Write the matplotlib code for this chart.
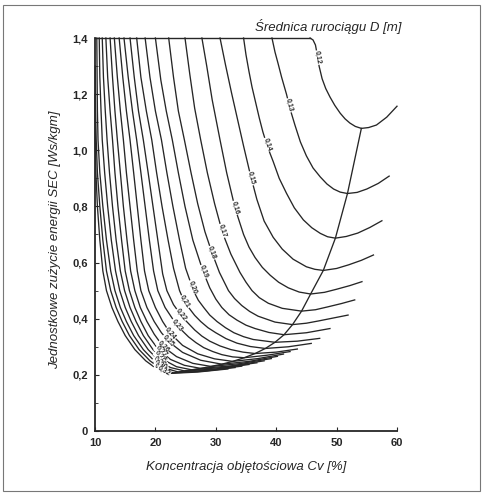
import matplotlib
matplotlib.use('Agg')
import matplotlib.pyplot as plt
import numpy as np

plt.rcParams['font.family'] = ['Liberation Sans', 'DejaVu Sans']

# curves SEC = f(Cv) for each pipe diameter D (Cv %, SEC)
c012 = [(45.6, 1.40), (46.1, 1.393), (46.5, 1.375), (46.8, 1.34), (47.1, 1.30), (47.6, 1.255),
        (48.2, 1.22), (48.9, 1.19), (49.7, 1.16), (50.6, 1.132), (51.4, 1.112), (52.2, 1.097),
        (53.1, 1.085), (54.1, 1.078), (55.3, 1.081), (56.6, 1.09), (58.3, 1.118), (60.0, 1.157)]
c013 = [(39.3, 1.40), (39.8, 1.35), (40.3, 1.31), (40.9, 1.26), (41.7, 1.20), (42.4, 1.14),
        (43.1, 1.09), (44.0, 1.03), (45.0, 0.98), (46.1, 0.937), (47.3, 0.905), (48.4, 0.88),
        (49.5, 0.862), (50.6, 0.851), (51.8, 0.846), (53.4, 0.85), (55.0, 0.862), (56.9, 0.882),
        (58.7, 0.908)]
c014 = [(34.6, 1.40), (35.0, 1.34), (35.5, 1.28), (36.0, 1.225), (36.6, 1.17), (37.2, 1.115),
        (37.8, 1.065), (38.6, 1.01), (39.5, 0.96), (40.5, 0.90), (41.7, 0.847), (43.0, 0.795),
        (44.5, 0.752), (45.9, 0.724), (47.3, 0.704), (48.5, 0.692), (49.8, 0.687), (51.6, 0.693),
        (53.5, 0.705), (55.5, 0.725), (57.5, 0.749)]
c015 = [(30.7, 1.40), (31.6, 1.305), (32.6, 1.205), (33.6, 1.11), (34.6, 1.015), (35.7, 0.915),
        (36.8, 0.825), (38.0, 0.748), (39.5, 0.69), (41.0, 0.648), (42.8, 0.612), (45.0, 0.585),
        (46.4, 0.576), (47.8, 0.572), (50.0, 0.579), (52.0, 0.592), (54.1, 0.608), (56.1, 0.627)]
c016 = [(27.7, 1.40), (28.5, 1.30), (29.4, 1.18), (30.7, 1.037), (31.8, 0.92), (33.2, 0.793),
        (34.6, 0.70), (35.5, 0.655), (36.5, 0.618), (37.7, 0.583), (39.0, 0.555), (40.4, 0.53),
        (42.0, 0.51), (43.8, 0.495), (45.7, 0.488), (48.0, 0.494), (50.0, 0.505), (52.2, 0.518),
        (54.2, 0.532)]
c017 = [(24.9, 1.40), (25.7, 1.27), (26.5, 1.15), (27.5, 1.037), (28.6, 0.92), (29.8, 0.81),
        (31.1, 0.707), (32.5, 0.63), (34.0, 0.565), (35.0, 0.53), (36.0, 0.50), (37.2, 0.475),
        (38.7, 0.455), (41.0, 0.437), (44.2, 0.427), (46.5, 0.432), (48.5, 0.442), (50.8, 0.454),
        (53.0, 0.467)]
c018 = [(22.2, 1.40), (23.0, 1.26), (23.8, 1.14), (24.8, 1.037), (25.9, 0.92), (27.0, 0.81),
        (28.2, 0.71), (29.3, 0.639), (30.6, 0.565), (32.1, 0.50), (33.1, 0.472), (34.3, 0.447),
        (35.6, 0.426), (37.0, 0.409), (39.8, 0.388), (42.7, 0.379), (45.0, 0.384), (47.0, 0.392),
        (51.9, 0.413)]
c019 = [(20.0, 1.40), (20.9, 1.25), (21.8, 1.14), (22.8, 1.037), (23.8, 0.92), (24.9, 0.80),
        (26.2, 0.68), (27.9, 0.568), (29.0, 0.51), (30.0, 0.47), (31.0, 0.44), (32.2, 0.414),
        (33.5, 0.395), (35.0, 0.377), (36.5, 0.365), (38.8, 0.351), (41.3, 0.343), (45.0, 0.35),
        (48.9, 0.365)]
c020 = [(18.3, 1.40), (19.1, 1.26), (20.0, 1.14), (21.0, 1.037), (21.9, 0.92), (22.9, 0.80),
        (24.0, 0.68), (25.0, 0.58), (26.3, 0.50), (27.1, 0.466), (28.0, 0.44), (29.0, 0.413),
        (30.2, 0.39), (31.6, 0.368), (33.0, 0.35), (34.6, 0.336), (36.2, 0.326), (39.8, 0.316),
        (43.5, 0.32), (47.2, 0.33)]
c021 = [(16.9, 1.40), (17.6, 1.26), (18.5, 1.14), (19.4, 1.037), (20.2, 0.92), (21.1, 0.80),
        (22.1, 0.68), (23.0, 0.58), (24.0, 0.50), (24.7, 0.465), (25.5, 0.44), (26.5, 0.412),
        (27.5, 0.39), (28.7, 0.368), (30.0, 0.35), (31.7, 0.329), (33.5, 0.313), (35.7, 0.301),
        (38.2, 0.294), (42.0, 0.30), (45.8, 0.312)]
c022 = [(15.8, 1.40), (16.5, 1.26), (17.2, 1.14), (18.0, 1.037), (18.8, 0.92), (19.6, 0.80),
        (20.4, 0.68), (21.2, 0.56), (21.9, 0.50), (23.0, 0.45), (24.5, 0.405), (26.5, 0.36),
        (27.7, 0.338), (29.0, 0.32), (30.7, 0.303), (32.5, 0.29), (34.5, 0.281), (36.5, 0.276),
        (40.0, 0.281), (43.5, 0.292)]
c023 = [(14.8, 1.40), (15.5, 1.26), (16.2, 1.14), (16.9, 1.037), (17.6, 0.92), (18.3, 0.80),
        (19.0, 0.68), (19.7, 0.57), (20.4, 0.50), (21.6, 0.44), (23.6, 0.375), (25.5, 0.335),
        (26.7, 0.315), (28.0, 0.297), (29.5, 0.283), (31.0, 0.272), (32.8, 0.264), (34.7, 0.261),
        (38.5, 0.27), (42.3, 0.283)]
c024 = [(14.0, 1.40), (14.6, 1.26), (15.2, 1.14), (15.8, 1.037), (16.4, 0.92), (17.0, 0.80),
        (17.6, 0.68), (18.2, 0.57), (18.9, 0.50), (20.0, 0.44), (21.2, 0.39), (22.5, 0.347),
        (24.5, 0.305), (27.0, 0.275), (29.8, 0.257), (32.8, 0.248), (37.0, 0.258), (41.2, 0.274)]
c025 = [(13.2, 1.40), (13.7, 1.26), (14.2, 1.14), (14.7, 1.037), (15.2, 0.92), (15.8, 0.80),
        (16.4, 0.68), (17.0, 0.57), (17.6, 0.50), (18.6, 0.44), (19.8, 0.39), (21.0, 0.35),
        (22.4, 0.315), (24.5, 0.28), (27.5, 0.252), (31.0, 0.238), (35.5, 0.248), (40.2, 0.266)]
c026 = [(12.5, 1.40), (12.9, 1.26), (13.3, 1.14), (13.7, 1.037), (14.2, 0.92), (14.7, 0.80),
        (15.3, 0.68), (15.9, 0.57), (16.6, 0.50), (17.5, 0.44), (18.6, 0.39), (19.8, 0.345),
        (21.3, 0.30), (23.5, 0.265), (26.2, 0.241), (29.2, 0.23), (34.0, 0.24), (39.2, 0.258)]
c027 = [(11.8, 1.40), (12.1, 1.26), (12.5, 1.14), (12.9, 1.037), (13.3, 0.92), (13.8, 0.80),
        (14.4, 0.68), (15.0, 0.57), (15.7, 0.50), (16.6, 0.44), (17.6, 0.39), (18.8, 0.34),
        (20.5, 0.29), (22.5, 0.255), (24.8, 0.234), (27.5, 0.223), (32.5, 0.232), (38.0, 0.25)]
c028 = [(11.2, 1.40), (11.4, 1.26), (11.7, 1.14), (12.0, 1.037), (12.4, 0.92), (12.9, 0.80),
        (13.5, 0.68), (14.2, 0.57), (14.9, 0.50), (15.8, 0.44), (16.8, 0.39), (18.0, 0.34),
        (19.6, 0.29), (21.5, 0.252), (23.5, 0.229), (26.0, 0.218), (31.0, 0.226), (36.8, 0.243)]
c029 = [(10.7, 1.40), (10.8, 1.26), (11.0, 1.14), (11.2, 1.037), (11.6, 0.92), (12.1, 0.80),
        (12.7, 0.68), (13.4, 0.57), (14.1, 0.50), (15.0, 0.44), (16.0, 0.39), (17.2, 0.34),
        (18.8, 0.29), (20.6, 0.25), (22.5, 0.226), (24.8, 0.214), (30.0, 0.221), (35.5, 0.237)]
c030 = [(10.3, 1.40), (10.35, 1.26), (10.4, 1.14), (10.5, 1.037), (10.8, 0.92), (11.3, 0.80),
        (11.9, 0.68), (12.6, 0.57), (13.3, 0.50), (14.2, 0.44), (15.2, 0.39), (16.4, 0.34),
        (18.0, 0.29), (19.8, 0.25), (21.6, 0.224), (23.8, 0.210), (29.0, 0.217), (34.3, 0.231)]
c031 = [(10.05, 1.30), (10.1, 1.14), (10.2, 1.037), (10.4, 0.92), (10.8, 0.80), (11.3, 0.68),
        (11.9, 0.57), (12.6, 0.50), (13.5, 0.44), (14.5, 0.39), (15.7, 0.34), (17.3, 0.29),
        (19.1, 0.25), (20.9, 0.222), (23.0, 0.207), (28.0, 0.213), (33.2, 0.226)]
c032 = [(10.02, 1.20), (10.05, 1.037), (10.15, 0.92), (10.4, 0.80), (10.8, 0.68), (11.3, 0.57),
        (11.9, 0.50), (12.8, 0.44), (13.8, 0.39), (15.0, 0.34), (16.6, 0.29), (18.4, 0.25),
        (20.3, 0.22), (22.3, 0.205), (27.0, 0.21), (32.0, 0.221)]

diameters = ["0,12", "0,13", "0,14", "0,15", "0,16", "0,17", "0,18", "0,19", "0,20", "0,21",
             "0,22", "0,23", "0,24", "0,25", "0,26", "0,27", "0,28", "0,29", "0,30", "0,31", "0,32"]
curves = [c012, c013, c014, c015, c016, c017, c018, c019, c020, c021,
          c022, c023, c024, c025, c026, c027, c028, c029, c030, c031, c032]
# SEC level where the diameter label sits on each curve
label_sec = [1.33, 1.16, 1.02, 0.90, 0.795, 0.713, 0.635, 0.567, 0.512, 0.46,
             0.413, 0.377, 0.347, 0.322, 0.30, 0.282, 0.265, 0.248, 0.234, 0.222, 0.212]

x_ticks = [10, 20, 30, 40, 50, 60]
y_ticks = [0, 0.2, 0.4, 0.6, 0.8, 1.0, 1.2, 1.4]
y_ticklabels = ["0", "0,2", "0,4", "0,6", "0,8", "1,0", "1,2", "1,4"]

ink = '#262626'

fig = plt.figure(figsize=(4.84, 4.94), dpi=100)
ax = fig.add_axes([95 / 484, 63 / 494, 302 / 484, 393 / 494])
ax.set_xlim(10, 60)
ax.set_ylim(0, 1.4)

for c in curves:
    xs, ys = zip(*c)
    ax.plot(xs, ys, color=ink, lw=0.95, solid_joinstyle='round', clip_on=False)

# top edge of the chart (only up to the 0,12 curve)
ax.plot([10, c012[0][0]], [1.4, 1.4], color=ink, lw=1.0, clip_on=False)

# line through the minima
mins = [min(c, key=lambda p: p[1]) for c in curves]
mx, my = zip(*mins)
ax.plot(mx, my, color=ink, lw=0.95)

# diameter labels along the curves
for c, lab, yl in zip(curves, diameters, label_sec):
    xs, ys = np.array(c).T
    k = int(np.argmin(ys))
    xd, yd = xs[:k + 1][::-1], ys[:k + 1][::-1]
    xl = np.interp(yl, yd, xd)
    p1 = ax.transData.transform((np.interp(yl + 0.015, yd, xd), yl + 0.015))
    p2 = ax.transData.transform((np.interp(yl - 0.015, yd, xd), yl - 0.015))
    ang = np.degrees(np.arctan2(p2[1] - p1[1], p2[0] - p1[0]))
    ax.text(xl, yl, lab, fontsize=5, fontweight='bold', color=ink, rotation=ang,
            rotation_mode='anchor', ha='center', va='center',
            bbox=dict(facecolor='white', edgecolor='none', pad=0.3))

for s in ['top', 'right']:
    ax.spines[s].set_visible(False)
for s in ['left', 'bottom']:
    ax.spines[s].set_color(ink)
    ax.spines[s].set_linewidth(1.3)

ax.set_xticks(x_ticks)
ax.set_xticklabels([str(v) for v in x_ticks])
ax.set_yticks(y_ticks)
ax.set_yticklabels(y_ticklabels)
ax.set_yticks(np.arange(0.1, 1.4, 0.2), minor=True)
ax.tick_params(axis='both', which='major', direction='in', length=3, width=0.8, color=ink,
               labelsize=8, labelcolor=ink, pad=5)
ax.tick_params(axis='y', which='minor', direction='in', length=2, width=0.6, color=ink)
for t in ax.get_xticklabels() + ax.get_yticklabels():
    t.set_fontweight('bold')

fig.text(55 / 484, 1 - 240 / 494, "Jednostkowe zużycie energii SEC [Ws/kgm]", rotation=90,
         ha='center', va='center', fontsize=9.5, style='italic', color=ink)
fig.text(246 / 484, 1 - 467 / 494, "Koncentracja objętościowa Cv [%]",
         ha='center', va='center', fontsize=9.5, style='italic', color=ink)
fig.text(328 / 484, 1 - 27 / 494, "Średnica rurociągu D [m]",
         ha='center', va='center', fontsize=9.5, style='italic', color=ink)

# scanned page frame
fig.patches.append(plt.Rectangle((3 / 484, 3 / 494), 477 / 484, 486 / 494, transform=fig.transFigure,
                                 fill=False, edgecolor='#777777', lw=0.8))

fig.savefig('out.png', dpi=100)
